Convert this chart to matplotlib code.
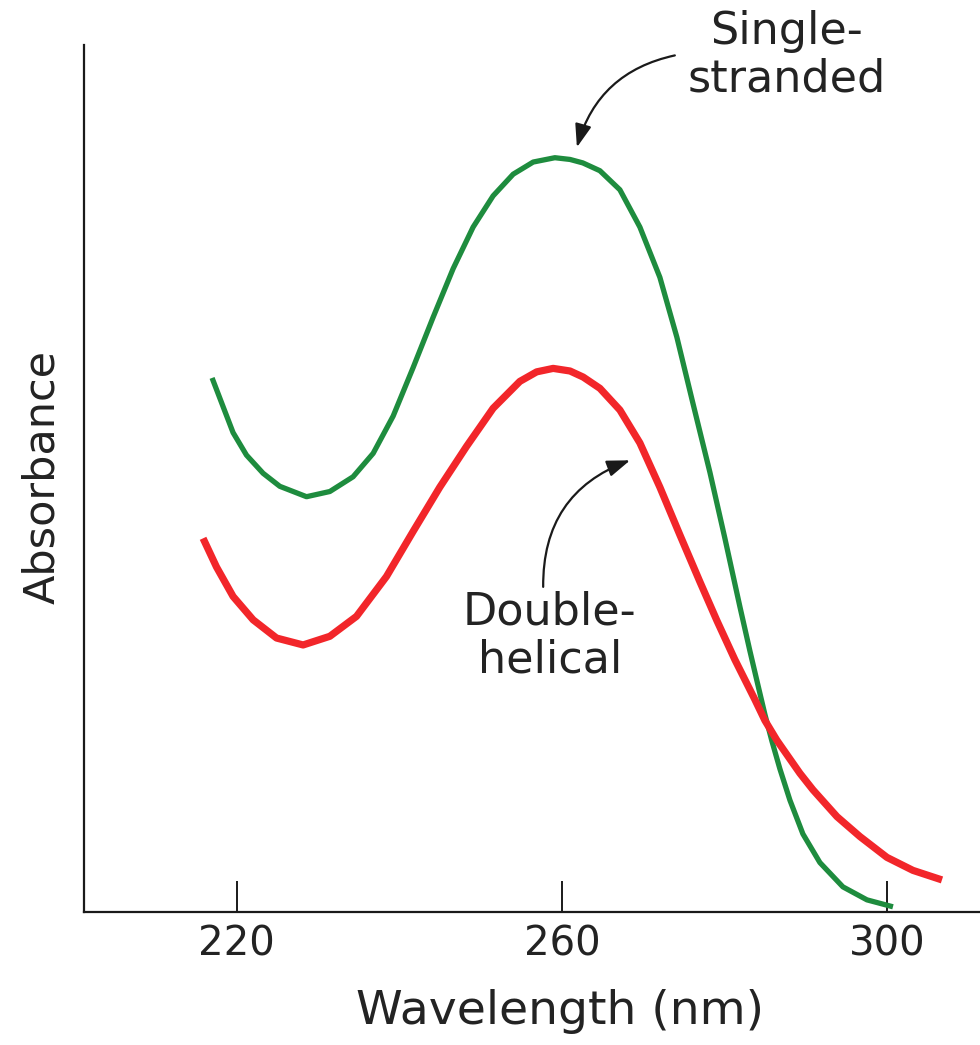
import matplotlib
matplotlib.use("Agg")
import matplotlib.pyplot as plt

# ---- data ----
single_wl = [216.96, 218.31, 219.54, 221.19, 223.24, 225.29, 228.58, 231.45, 234.31, 236.78,
             239.24, 241.70, 244.16, 246.62, 249.08, 251.54, 254.01, 256.47, 259.14, 261.00,
             262.58, 264.68, 267.14, 269.60, 272.06, 274.15, 276.12, 278.22, 280.06, 281.91,
             283.14, 284.12, 284.98, 285.85, 286.83, 288.06, 289.66, 291.75, 294.58, 297.54,
             300.74]
single_abs = [0.616, 0.583, 0.553, 0.527, 0.506, 0.491, 0.479, 0.485, 0.502, 0.529,
              0.572, 0.628, 0.686, 0.742, 0.790, 0.826, 0.851, 0.865, 0.870, 0.868,
              0.864, 0.855, 0.833, 0.790, 0.732, 0.663, 0.587, 0.507, 0.431, 0.352,
              0.301, 0.262, 0.228, 0.197, 0.165, 0.129, 0.090, 0.057, 0.029, 0.014,
              0.006]

double_wl = [215.85, 217.50, 219.54, 222.01, 224.89, 228.16, 231.45, 234.73, 238.42, 241.70,
             244.98, 248.27, 251.54, 254.83, 256.90, 258.93, 261.00, 262.62, 264.68, 267.14,
             269.60, 272.06, 274.52, 276.98, 279.08, 281.29, 283.75, 284.98, 286.46, 289.29,
             290.89, 293.85, 296.68, 300.00, 303.20, 306.77]
double_abs = [0.431, 0.398, 0.364, 0.337, 0.316, 0.308, 0.318, 0.341, 0.387, 0.439,
              0.490, 0.537, 0.581, 0.612, 0.623, 0.627, 0.624, 0.617, 0.604, 0.579,
              0.541, 0.490, 0.435, 0.381, 0.336, 0.291, 0.245, 0.221, 0.198, 0.160,
              0.141, 0.110, 0.087, 0.063, 0.048, 0.037]

xticks = [220, 260, 300]
xtick_labels = ["220", "260", "300"]

plt.rcParams['font.family'] = ['DejaVu Sans']
TXT = '#232323'

fig = plt.figure(figsize=(9.8, 10.45), dpi=100)
ax = fig.add_axes([84/980, 133/1045, 1 - 84/980, (912-45)/1045])

ax.plot(single_wl, single_abs, color='#1e8c3e', lw=3.8, solid_capstyle='butt',
        solid_joinstyle='round')
ax.plot(double_wl, double_abs, color='#f2262a', lw=5.2, solid_capstyle='butt',
        solid_joinstyle='round')

ax.set_xlim(201.2, 311.45)
ax.set_ylim(0, 1.0)

for s in ['top', 'right']:
    ax.spines[s].set_visible(False)
for s in ['left', 'bottom']:
    ax.spines[s].set_linewidth(1.6)
    ax.spines[s].set_color('#1a1a1a')

ax.set_xticks(xticks)
ax.set_xticklabels(xtick_labels)
ax.set_yticks([])
ax.tick_params(axis='x', direction='in', length=22, width=1.4, color='#1a1a1a',
               labelsize=29, labelcolor=TXT, pad=9)

fig.text(560/980, 1 - 1012/1045, "Wavelength (nm)", ha='center', va='center',
         fontsize=34, color=TXT)
fig.text(42/980, 1 - 477/1045, "Absorbance", ha='center', va='center',
         rotation=90, fontsize=31, color=TXT)

ax.text(287.7, 0.988, "Single-\nstranded", ha='center', va='center', fontsize=32,
        color=TXT, linespacing=1.15, clip_on=False)
ax.text(258.5, 0.318, "Double-\nhelical", ha='center', va='center', fontsize=32,
        color=TXT, linespacing=1.15, clip_on=False)

arrow_kw = dict(arrowstyle='-|>,head_length=1.4,head_width=0.5', color='#1a1a1a',
                lw=1.6, shrinkA=0, shrinkB=0, mutation_scale=10)
ax.annotate('', xy=(261.85, 0.882), xytext=(273.9, 0.988), annotation_clip=False,
            arrowprops=dict(connectionstyle='arc3,rad=0.3', **arrow_kw))
ax.annotate('', xy=(268.4, 0.521), xytext=(257.7, 0.375), annotation_clip=False,
            arrowprops=dict(connectionstyle='arc3,rad=-0.35', **arrow_kw))

fig.savefig('out.png', dpi=100)
